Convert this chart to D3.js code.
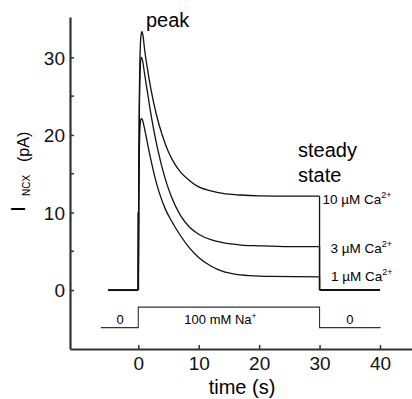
<!DOCTYPE html>
<meta charset="utf-8">
<style>
  body { margin: 0; background: white; }
  svg { font-family: "Liberation Sans", Arial, sans-serif; }
</style>
<script src="https://d3js.org/d3.v7.min.js"></script>
<body>
<div id="chart"></div>
<script>
// time (s), current (pA)
var ca10 = [[0,0],[0.08,15],[0.18,25],[0.3,30.5],[0.45,32.8],[0.6,33.3],[0.8,32.7],[1,31.3],[1.5,28.6],[2,26.3],[3,22.6],[4,19.9],[5,17.8],[6,16.3],[7,15.2],[8.5,14.1],[10,13.3],[12,12.8],[14,12.45],[17,12.25],[20,12.15],[25,12.1],[30,12.1]];
var ca3  = [[0,0],[0.08,14],[0.18,23],[0.3,28],[0.42,29.8],[0.55,30],[0.75,29.4],[1,28.1],[1.5,25.6],[2,23.1],[2.5,20.9],[3.2,18.2],[4.4,14.5],[5.5,12.0],[7,9.6],[8.5,8.1],[10,7.2],[12,6.5],[14,6.1],[17,5.8],[20,5.7],[25,5.6],[30,5.6]];
var ca1  = [[0,0],[0.08,11],[0.18,18],[0.3,21.2],[0.45,22.1],[0.65,22.0],[0.9,21.3],[1.2,20.2],[1.6,18.6],[2.2,16.4],[2.8,14.4],[3.5,12.5],[4.5,10.4],[5.5,8.9],[7,7.0],[8.5,5.4],[10,4.2],[12,3.1],[14,2.4],[16,2.05],[18.5,1.85],[22,1.75],[30,1.7]];
var baseBefore = [[-5,0],[0,0]];
var baseAfter = [[30,0],[40,0]];
var naStep = [[-6.2,-4.85],[0,-4.85],[0,-2.2],[30,-2.2],[30,-4.85],[40.1,-4.85]];
var caLabels = ["10", "3", "1"];
var xTicks = [0, 10, 20, 30, 40];
var yTicks = [0, 10, 20, 30];
var yMinor = [5, 15, 25];

var width = 412, height = 399;
var x = d3.scaleLinear().domain([-11.3, 45.3]).range([70, 412]);
var y = d3.scaleLinear().domain([-7.6, 35.2]).range([349, 17]);

var svg = d3.select("#chart").append("svg")
  .attr("width", width).attr("height", height);

// axes, ticks pointing inward
var xAxis = svg.append("g").attr("transform", "translate(0," + y.range()[0] + ")")
  .call(d3.axisBottom(x).tickValues(xTicks).tickSizeInner(-4).tickSizeOuter(0).tickPadding(8));
var yAxis = svg.append("g").attr("transform", "translate(" + x.range()[0] + ",0)")
  .call(d3.axisLeft(y).tickValues(yTicks).tickSizeInner(-4).tickSizeOuter(0).tickPadding(5));
yAxis.selectAll(".minor").data(yMinor).enter().append("line")
  .attr("class", "minor")
  .attr("x1", 0).attr("x2", 4)
  .attr("y1", function(d){ return y(d); }).attr("y2", function(d){ return y(d); })
  .attr("stroke", "#333").attr("stroke-width", 1.5);
[xAxis, yAxis].forEach(function(a){
  a.select(".domain").attr("stroke", "#333").attr("stroke-width", 2.2);
  a.selectAll(".tick line").attr("stroke", "#333").attr("stroke-width", 1.5);
  a.selectAll("text").attr("font-size", "19px").attr("fill", "#111")
    .attr("font-family", "Liberation Sans, Arial, sans-serif");
});
yAxis.selectAll("text").attr("dy", "0.36em");

// axis titles
svg.append("text").attr("x", 242).attr("y", 394).attr("text-anchor", "middle")
  .attr("font-size", "20px").text("time (s)");
svg.append("text").attr("transform", "translate(25,212) rotate(-90)")
  .attr("font-size", "21px").text("I");
svg.append("text").attr("transform", "translate(29.5,196) rotate(-90)")
  .attr("font-size", "10px").text("NCX");
svg.append("text").attr("transform", "translate(28.5,162) rotate(-90)")
  .attr("font-size", "16px").text("(pA)");

// traces
var smooth = d3.line().x(function(d){ return x(d[0]); }).y(function(d){ return y(d[1]); })
  .curve(d3.curveMonotoneX);
var straight = d3.line().x(function(d){ return x(d[0]); }).y(function(d){ return y(d[1]); });

[ca10, ca3, ca1].forEach(function(s){
  svg.append("path").attr("d", smooth(s)).attr("fill", "none")
    .attr("stroke", "#111").attr("stroke-width", 1.3);
  var last = s[s.length - 1];
  svg.append("path").attr("d", straight([last, [last[0], 0]])).attr("fill", "none")
    .attr("stroke", "#111").attr("stroke-width", 1.3);
});
[baseBefore, baseAfter].forEach(function(s){
  svg.append("path").attr("d", straight(s)).attr("fill", "none")
    .attr("stroke", "#111").attr("stroke-width", 2);
});
svg.append("line").attr("x1", x(0)).attr("x2", x(0)).attr("y1", y(0)).attr("y2", y(10))
  .attr("stroke", "#111").attr("stroke-width", 1.8);

// Na+ step protocol
svg.append("path").attr("d", straight(naStep)).attr("fill", "none")
  .attr("stroke", "#333").attr("stroke-width", 1.1);
svg.append("text").attr("x", x(-3)).attr("y", 324).attr("text-anchor", "middle")
  .attr("font-size", "13px").text("0");
svg.append("text").attr("x", x(35)).attr("y", 324).attr("text-anchor", "middle")
  .attr("font-size", "13px").text("0");
var na = svg.append("text").attr("x", x(13.6)).attr("y", 324).attr("text-anchor", "middle")
  .attr("font-size", "13px");
na.append("tspan").text("100 mM Na");
na.append("tspan").attr("font-size", "8.5px").attr("dy", -5.5).text("+");

// annotations
svg.append("text").attr("x", 146).attr("y", 27).attr("font-size", "20px").text("peak");
svg.append("text").attr("x", 298).attr("y", 157).attr("font-size", "20px").text("steady");
svg.append("text").attr("x", 298).attr("y", 182).attr("font-size", "20px").text("state");

var labelPos = [[322.5, 204], [330.5, 253], [331, 280.5]];
caLabels.forEach(function(c, i){
  var t = svg.append("text").attr("x", labelPos[i][0]).attr("y", labelPos[i][1])
    .attr("font-size", "13.5px");
  t.append("tspan").text(c + " \u00b5M Ca");
  t.append("tspan").attr("font-size", "9px").attr("dy", -6).text("2+");
});
</script>
</body>
